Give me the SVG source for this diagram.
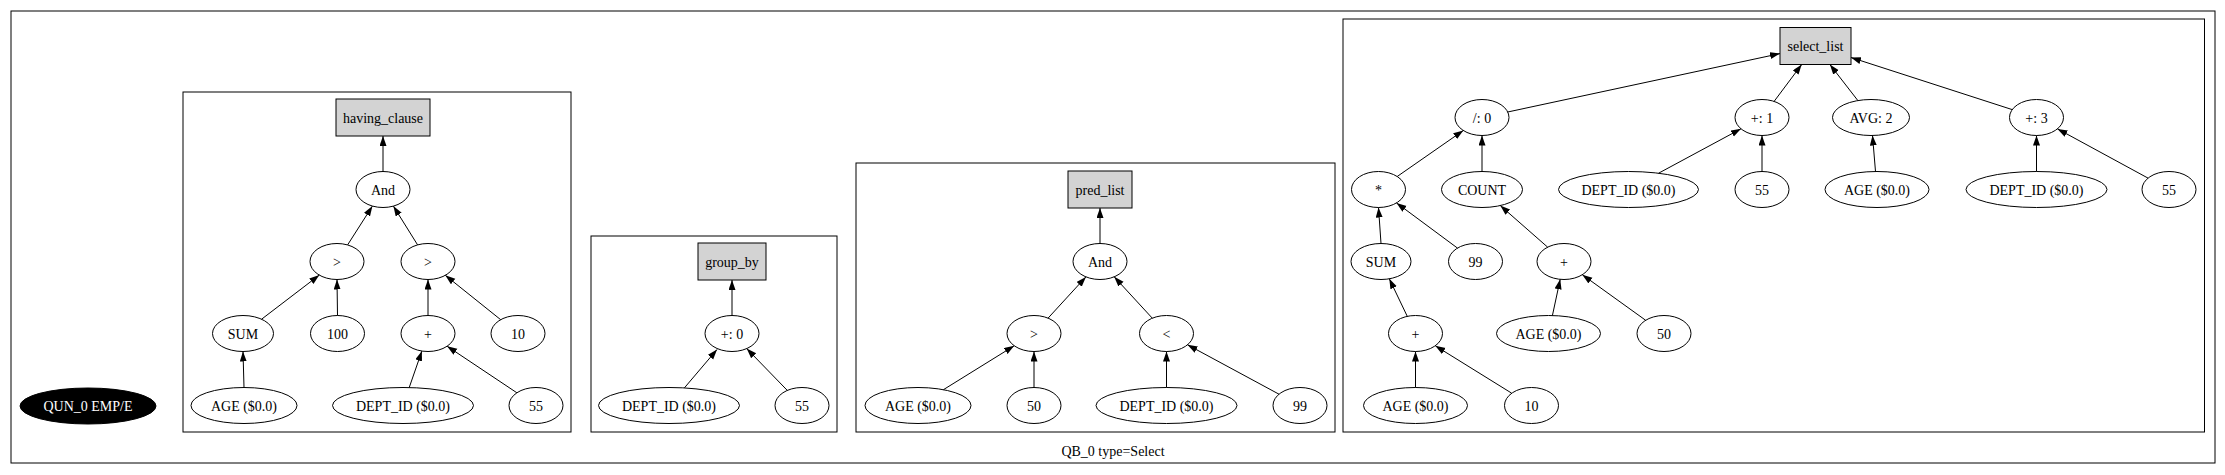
<svg xmlns="http://www.w3.org/2000/svg" width="2225" height="475" viewBox="0 0 2225 475">
<style>
text{font-family:"Liberation Serif","Times New Roman",serif;font-size:14px;text-anchor:middle;fill:#000}
.cl{fill:none;stroke:#000;stroke-width:1}
.n ellipse{fill:#fff;stroke:#000;stroke-width:1}
.n rect{fill:#d3d3d3;stroke:#000;stroke-width:1}
.e line{stroke:#000;stroke-width:1;marker-end:url(#ah)}
</style>
<defs>
<marker id="ah" markerUnits="userSpaceOnUse" markerWidth="10" markerHeight="8" refX="10" refY="3.5" orient="auto"><path d="M0,0 L10,3.5 L0,7 z" fill="#000"/></marker>
</defs>
<rect width="2225" height="475" fill="#fff"/>
<g id="clusters">
<rect class="cl" x="11" y="11" width="2204" height="452"/>
<text x="1113" y="456">QB_0 type=Select</text>
<rect class="cl" x="183" y="92" width="388" height="340"/>
<rect class="cl" x="591" y="236" width="246" height="196"/>
<rect class="cl" x="856" y="163" width="479" height="269"/>
<rect class="cl" x="1343" y="19" width="861.5" height="413"/>
</g>
<g id="qun" class="n"><ellipse cx="88" cy="406" rx="68" ry="18" style="fill:#000"/><text x="88" y="411" style="fill:#fff">QUN_0 EMP/E</text></g>
<!-- having_clause -->
<g id="hc" class="n"><rect x="336" y="99" width="94" height="37"/><text x="383" y="122.5">having_clause</text></g>
<g id="and1" class="n"><ellipse cx="383" cy="189.5" rx="27" ry="18"/><text x="383" y="194.5">And</text></g>
<g id="gt1" class="n"><ellipse cx="337" cy="261.5" rx="27" ry="18"/><text x="337" y="266.5">&gt;</text></g>
<g id="gt2" class="n"><ellipse cx="428" cy="261.5" rx="27" ry="18"/><text x="428" y="266.5">&gt;</text></g>
<g id="sum1" class="n"><ellipse cx="243" cy="333.5" rx="30.5" ry="18"/><text x="243" y="338.5">SUM</text></g>
<g id="n100" class="n"><ellipse cx="337.5" cy="333.5" rx="27" ry="18"/><text x="337.5" y="338.5">100</text></g>
<g id="plus1" class="n"><ellipse cx="428" cy="333.5" rx="27" ry="18"/><text x="428" y="338.5">+</text></g>
<g id="n10a" class="n"><ellipse cx="518" cy="333.5" rx="27" ry="18"/><text x="518" y="338.5">10</text></g>
<g id="age1" class="n"><ellipse cx="244" cy="405.5" rx="53" ry="18"/><text x="244" y="410.5">AGE ($0.0)</text></g>
<g id="dept1" class="n"><ellipse cx="403" cy="405.5" rx="70.5" ry="18"/><text x="403" y="410.5">DEPT_ID ($0.0)</text></g>
<g id="n55a" class="n"><ellipse cx="536" cy="405.5" rx="27" ry="18"/><text x="536" y="410.5">55</text></g>
<!-- group_by -->
<g id="gb" class="n"><rect x="698" y="243" width="68" height="37"/><text x="732" y="266.5">group_by</text></g>
<g id="p0" class="n"><ellipse cx="732" cy="333.5" rx="27" ry="18"/><text x="732" y="338.5">+: 0</text></g>
<g id="dept2" class="n"><ellipse cx="669" cy="405.5" rx="70.5" ry="18"/><text x="669" y="410.5">DEPT_ID ($0.0)</text></g>
<g id="n55b" class="n"><ellipse cx="802" cy="405.5" rx="27" ry="18"/><text x="802" y="410.5">55</text></g>
<!-- pred_list -->
<g id="pl" class="n"><rect x="1068" y="171" width="64" height="37"/><text x="1100" y="194.5">pred_list</text></g>
<g id="and2" class="n"><ellipse cx="1100" cy="261.5" rx="27" ry="18"/><text x="1100" y="266.5">And</text></g>
<g id="gt3" class="n"><ellipse cx="1034" cy="333.5" rx="27" ry="18"/><text x="1034" y="338.5">&gt;</text></g>
<g id="lt" class="n"><ellipse cx="1166.5" cy="333.5" rx="27" ry="18"/><text x="1166.5" y="338.5">&lt;</text></g>
<g id="age2" class="n"><ellipse cx="918" cy="405.5" rx="53" ry="18"/><text x="918" y="410.5">AGE ($0.0)</text></g>
<g id="n50a" class="n"><ellipse cx="1034" cy="405.5" rx="27" ry="18"/><text x="1034" y="410.5">50</text></g>
<g id="dept3" class="n"><ellipse cx="1166.5" cy="405.5" rx="70.5" ry="18"/><text x="1166.5" y="410.5">DEPT_ID ($0.0)</text></g>
<g id="n99a" class="n"><ellipse cx="1300" cy="405.5" rx="27" ry="18"/><text x="1300" y="410.5">99</text></g>
<!-- select_list -->
<g id="sl" class="n"><rect x="1780" y="27.5" width="71" height="37"/><text x="1815.5" y="51">select_list</text></g>
<g id="div" class="n"><ellipse cx="1482" cy="117.5" rx="27" ry="18"/><text x="1482" y="122.5">/: 0</text></g>
<g id="p1" class="n"><ellipse cx="1762" cy="117.5" rx="27" ry="18"/><text x="1762" y="122.5">+: 1</text></g>
<g id="avg" class="n"><ellipse cx="1871" cy="117.5" rx="38.5" ry="18"/><text x="1871" y="122.5">AVG: 2</text></g>
<g id="p3" class="n"><ellipse cx="2036.5" cy="117.5" rx="27" ry="18"/><text x="2036.5" y="122.5">+: 3</text></g>
<g id="mul" class="n"><ellipse cx="1378.5" cy="189.5" rx="27" ry="18"/><text x="1378.5" y="194.5">*</text></g>
<g id="count" class="n"><ellipse cx="1482" cy="189.5" rx="40.5" ry="18"/><text x="1482" y="194.5">COUNT</text></g>
<g id="dept4" class="n"><ellipse cx="1628.5" cy="189.5" rx="70" ry="18"/><text x="1628.5" y="194.5">DEPT_ID ($0.0)</text></g>
<g id="n55c" class="n"><ellipse cx="1762" cy="189.5" rx="27" ry="18"/><text x="1762" y="194.5">55</text></g>
<g id="age3" class="n"><ellipse cx="1877" cy="189.5" rx="52" ry="18"/><text x="1877" y="194.5">AGE ($0.0)</text></g>
<g id="dept5" class="n"><ellipse cx="2036.5" cy="189.5" rx="70.5" ry="18"/><text x="2036.5" y="194.5">DEPT_ID ($0.0)</text></g>
<g id="n55d" class="n"><ellipse cx="2169" cy="189.5" rx="27" ry="18"/><text x="2169" y="194.5">55</text></g>
<g id="sum2" class="n"><ellipse cx="1381" cy="261.5" rx="30" ry="18"/><text x="1381" y="266.5">SUM</text></g>
<g id="n99b" class="n"><ellipse cx="1475.5" cy="261.5" rx="27" ry="18"/><text x="1475.5" y="266.5">99</text></g>
<g id="plus2" class="n"><ellipse cx="1564" cy="261.5" rx="27" ry="18"/><text x="1564" y="266.5">+</text></g>
<g id="plus3" class="n"><ellipse cx="1415.5" cy="333.5" rx="27" ry="18"/><text x="1415.5" y="338.5">+</text></g>
<g id="age4" class="n"><ellipse cx="1548.5" cy="333.5" rx="52" ry="18"/><text x="1548.5" y="338.5">AGE ($0.0)</text></g>
<g id="n50b" class="n"><ellipse cx="1664" cy="333.5" rx="27" ry="18"/><text x="1664" y="338.5">50</text></g>
<g id="age5" class="n"><ellipse cx="1415.5" cy="405.5" rx="52" ry="18"/><text x="1415.5" y="410.5">AGE ($0.0)</text></g>
<g id="n10b" class="n"><ellipse cx="1531.5" cy="405.5" rx="27" ry="18"/><text x="1531.5" y="410.5">10</text></g>
<g id="edges" class="e">
<line x1="383" y1="171.5" x2="383" y2="136"/>
<line x1="347.6" y1="244.9" x2="372.4" y2="206.1"/>
<line x1="417.6" y1="244.9" x2="393.4" y2="206.1"/>
<line x1="261.6" y1="319.2" x2="319.3" y2="275.1"/>
<line x1="337.5" y1="315.5" x2="337" y2="279.5"/>
<line x1="428" y1="315.5" x2="428" y2="279.5"/>
<line x1="500.7" y1="319.7" x2="445.3" y2="275.3"/>
<line x1="244" y1="387.5" x2="243" y2="351.5"/>
<line x1="409.2" y1="387.6" x2="421.9" y2="351"/>
<line x1="516.9" y1="392.8" x2="447.1" y2="346.2"/>
<line x1="732" y1="315.5" x2="732" y2="280"/>
<line x1="684.4" y1="387.9" x2="717" y2="349.5"/>
<line x1="787.3" y1="390.4" x2="746.7" y2="348.6"/>
<line x1="1100" y1="243.5" x2="1100" y2="208"/>
<line x1="1048.1" y1="318.1" x2="1085.9" y2="276.9"/>
<line x1="1152.3" y1="318.2" x2="1114.2" y2="276.8"/>
<line x1="943.4" y1="389.7" x2="1014.2" y2="345.8"/>
<line x1="1034" y1="387.5" x2="1034" y2="351.5"/>
<line x1="1166.5" y1="387.5" x2="1166.5" y2="351.5"/>
<line x1="1279" y1="394.2" x2="1187.5" y2="344.8"/>
<line x1="1507.7" y1="112" x2="1780" y2="53.6"/>
<line x1="1774.1" y1="101.4" x2="1801.7" y2="64.5"/>
<line x1="1857.9" y1="100.6" x2="1829.9" y2="64.5"/>
<line x1="2012.2" y1="109.6" x2="1851" y2="57.5"/>
<line x1="1397.2" y1="176.5" x2="1463.3" y2="130.5"/>
<line x1="1482" y1="171.5" x2="1482" y2="135.5"/>
<line x1="1658.6" y1="173.2" x2="1741" y2="128.8"/>
<line x1="1762" y1="171.5" x2="1762" y2="135.5"/>
<line x1="1875.5" y1="171.5" x2="1872.5" y2="135.5"/>
<line x1="2036.5" y1="171.5" x2="2036.5" y2="135.5"/>
<line x1="2148" y1="178.1" x2="2057.5" y2="128.9"/>
<line x1="1381" y1="243.5" x2="1378.5" y2="207.5"/>
<line x1="1457.5" y1="248.1" x2="1396.5" y2="202.9"/>
<line x1="1547.7" y1="247.2" x2="1500.3" y2="205.6"/>
<line x1="1407.3" y1="316.4" x2="1389.3" y2="278.8"/>
<line x1="1552.4" y1="315.6" x2="1560.2" y2="279.3"/>
<line x1="1645.7" y1="320.3" x2="1582.3" y2="274.7"/>
<line x1="1415.5" y1="387.5" x2="1415.5" y2="351.5"/>
<line x1="1511.7" y1="393.2" x2="1435.3" y2="345.8"/>
</g>
</svg>
